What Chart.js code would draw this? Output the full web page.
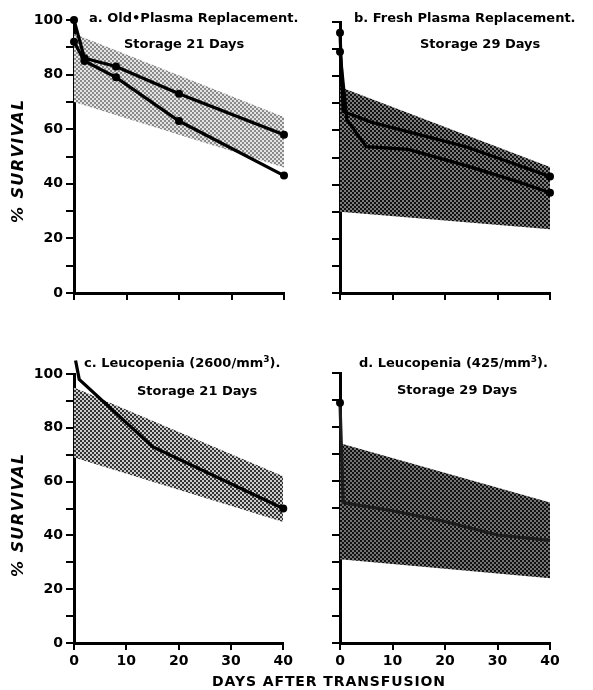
<!DOCTYPE html>
<html lang="en">
<head>
<meta charset="UTF-8">
<title>% Survival after transfusion</title>
<script src="https://cdn.jsdelivr.net/npm/chart.js"></script>
<style>
  body { margin: 0; background: #fff; }
  #fig { position: relative; width: 593px; height: 690px; overflow: hidden; font-family: "DejaVu Sans", sans-serif; font-weight: bold; color: #000; }
  #fig canvas { position: absolute; }
  .lbl { position: absolute; white-space: nowrap; font-size: 13px; line-height: 1; }
  .ytitle { position: absolute; font-size: 16px; font-style: italic; letter-spacing: 1.4px; transform: rotate(-90deg); transform-origin: center; white-space: nowrap; line-height: 1; }
  .xtitle { position: absolute; font-size: 14px; letter-spacing: 0.9px; white-space: nowrap; line-height: 1; }
</style>
</head>
<body>
<div id="fig">
  <canvas id="chA" style="left:0;top:0" width="296" height="340"></canvas>
  <canvas id="chB" style="left:296px;top:0" width="297" height="340"></canvas>
  <canvas id="chC" style="left:0;top:340px" width="296" height="350"></canvas>
  <canvas id="chD" style="left:296px;top:340px" width="297" height="350"></canvas>

  <div class="lbl" style="left:89px;top:11px">a. Old•Plasma Replacement.</div>
  <div class="lbl" style="left:124px;top:37px">Storage 21 Days</div>
  <div class="lbl" style="left:354px;top:11px">b. Fresh Plasma Replacement.</div>
  <div class="lbl" style="left:420px;top:37px">Storage 29 Days</div>
  <div class="lbl" style="left:84px;top:355px">c. Leucopenia (2600/mm<sup style="font-size:9px">3</sup>).</div>
  <div class="lbl" style="left:137px;top:384px">Storage 21 Days</div>
  <div class="lbl" style="left:359px;top:355px">d. Leucopenia (425/mm<sup style="font-size:9px">3</sup>).</div>
  <div class="lbl" style="left:397px;top:383px">Storage 29 Days</div>

  <div class="ytitle" style="left:-44px;top:153px;width:124px;text-align:center">% SURVIVAL</div>
  <div class="ytitle" style="left:-44px;top:507px;width:124px;text-align:center">% SURVIVAL</div>
  <div class="xtitle" style="left:212px;top:674px">DAYS AFTER TRANSFUSION</div>
</div>

<script>
// ---- data ----
const xTicks = [0, 10, 20, 30, 40];
const yTicks = [0, 20, 40, 60, 80, 100];
const bandDays = [0, 40];

// a. old plasma replacement, storage 21 days
const bandA_hi = [95, 64.5];
const bandA_lo = [70, 46];
const a1Days = [0, 2, 8, 20, 40];
const a1Surv = [100, 86, 83, 73, 58];
const a2Days = [0, 2, 8, 20, 40];
const a2Surv = [92, 85, 79, 63, 43];

// b. fresh plasma replacement, storage 29 days
const bandB_hi = [76, 46.5];
const bandB_lo = [30, 23.5];
const b1Days = [0, 0.6, 6, 14, 24, 40];
const b1Surv = [96, 67, 63, 59, 54, 43];
const b2Days = [0, 1.3, 5, 13, 24, 34, 40];
const b2Surv = [89, 64, 54, 53, 47, 41, 37];

// c. leucopenia 2600/mm3, storage 21 days
const bandC_hi = [95, 62];
const bandC_lo = [69, 45];
const c1Days = [0.3, 1, 15, 40];
const c1Surv = [105, 98, 73, 50];

// d. leucopenia 425/mm3, storage 29 days
const bandD_hi = [74, 52];
const bandD_lo = [31, 24];
const d1Days = [0, 0.6, 10, 20, 30, 40];
const d1Surv = [89, 52, 49, 45, 40, 38];

// ---- helpers ----
function pts(xs, ys) {
    return xs.map((x, i) => ({ x: x, y: ys[i] }));
}

// halftone stipple for the shaded ranges (2x2 dots on a 4x4 tile)
function stipple(bg, dot) {
    var c = document.createElement('canvas');
    c.width = 4; c.height = 4;
    var g = c.getContext('2d');
    g.fillStyle = bg; g.fillRect(0, 0, 4, 4);
    g.fillStyle = dot; g.fillRect(0, 0, 2, 2); g.fillRect(2, 2, 2, 2);
    return g.createPattern(c, 'repeat');
}

const tickFont = { family: 'DejaVu Sans', weight: 'bold', size: 14 };

function makePanel(id, o) {
    var ctx = document.getElementById(id).getContext('2d');
    var fill = stipple(o.bg, o.dot);
    var datasets = [
        { data: pts(bandDays, o.lo), borderWidth: 0, pointRadius: 0, fill: false },
        { data: pts(bandDays, o.hi), borderWidth: 0, pointRadius: 0, fill: '-1', backgroundColor: fill }
    ];
    o.lines.forEach(function (l) {
        datasets.push({
            data: l.data,
            borderColor: o.lineColor || '#000',
            borderWidth: 3.2,
            backgroundColor: '#000',
            pointBackgroundColor: '#000',
            pointBorderWidth: 0,
            pointRadius: function (c) {
                return (l.marks === 'all' || l.marks.indexOf(c.dataIndex) >= 0) ? 4 : 0;
            },
            fill: false,
            clip: false,
            tension: 0
        });
    });
    return new Chart(ctx, {
        type: 'scatter',
        data: { datasets: datasets },
        options: {
            responsive: false,
            animation: false,
            showLine: true,
            events: [],
            layout: { padding: { top: o.top, right: o.right, left: 0, bottom: 0 } },
            plugins: {
                legend: { display: false },
                tooltip: { enabled: false },
                filler: { drawTime: 'beforeDatasetsDraw' }
            },
            scales: {
                x: {
                    type: 'linear', min: 0, max: 40,
                    afterFit: function (s) { s.height = o.xh; },
                    afterBuildTicks: function (s) { s.ticks = xTicks.map(v => ({ value: v })); },
                    border: { display: true, color: '#000', width: 3 },
                    grid: { display: true, drawOnChartArea: false, color: '#000', lineWidth: 2, tickLength: 7 },
                    ticks: {
                        color: '#000', font: tickFont, padding: 3, maxRotation: 0,
                        callback: function (v) { return o.xLabels ? String(v) : ''; }
                    }
                },
                y: {
                    type: 'linear', min: 0, max: 100,
                    afterFit: function (s) { s.width = o.yw; },
                    ticks: {
                        stepSize: 10, color: '#000', font: tickFont, padding: 3,
                        callback: function (v) { return (o.yLabels && yTicks.indexOf(v) >= 0) ? String(v) : ''; }
                    },
                    border: { display: true, color: '#000', width: 3 },
                    grid: { display: true, drawOnChartArea: false, color: '#000', lineWidth: 2, tickLength: 8 }
                }
            }
        }
    });
}

makePanel('chA', {
    top: 20, right: 12, yw: 74, xh: 340 - 20 - 273, xLabels: false, yLabels: true,
    hi: bandA_hi, lo: bandA_lo, bg: '#e4e4e4', dot: '#8a8a8a',
    lines: [{ data: pts(a1Days, a1Surv), marks: 'all' }, { data: pts(a2Days, a2Surv), marks: 'all' }]
});
makePanel('chB', {
    top: 22, right: 43, yw: 44, xh: 340 - 22 - 271, xLabels: false, yLabels: false,
    hi: bandB_hi, lo: bandB_lo, bg: '#7c7c7c', dot: '#111',
    lines: [{ data: pts(b1Days, b1Surv), marks: [0, 5] }, { data: pts(b2Days, b2Surv), marks: [0, 6] }]
});
makePanel('chC', {
    top: 34, right: 11, yw: 74, xh: 350 - 34 - 269, xLabels: true, yLabels: true,
    hi: bandC_hi, lo: bandC_lo, bg: '#cccccc', dot: '#333',
    lines: [{ data: pts(c1Days, c1Surv), marks: [0, 3] }]
});
makePanel('chD', {
    top: 33, right: 43, yw: 44, xh: 350 - 33 - 270, xLabels: true, yLabels: false,
    hi: bandD_hi, lo: bandD_lo, bg: '#747474', dot: '#101010', lineColor: '#1c1c1c',
    lines: [{ data: pts(d1Days, d1Surv), marks: [0] }]
});
</script>
</body>
</html>
